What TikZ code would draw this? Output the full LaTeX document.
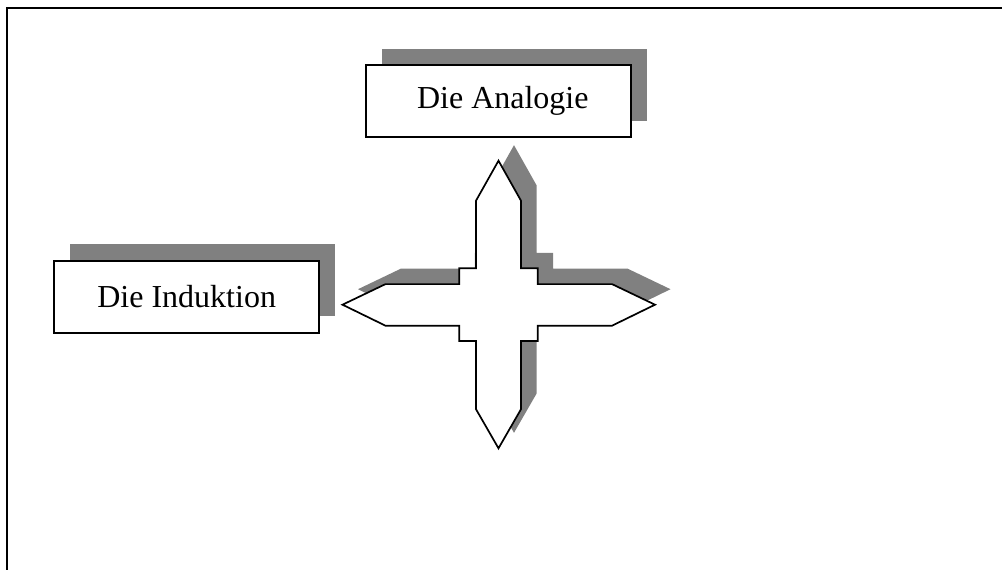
\documentclass[tikz,border=0pt]{standalone}
\usepackage{fontspec}
\setmainfont{Liberation Serif}
\usetikzlibrary{shadows}

% outline of the four-pointed cross, relative to its centre
\newcommand\plusoutline{
  (0,-144) -- (-22.5,-104) -- (-22.5,-36.4) -- (-39.2,-36.4) -- (-39.2,-20.6)
  -- (-113,-20.6) -- (-156,0) -- (-113,21) -- (-39.2,21) -- (-39.2,36.3)
  -- (-22.5,36.3) -- (-22.5,104.5) -- (0,143.6) -- (22.5,104.5) -- (22.5,36.3)
  -- (39.2,36.3) -- (39.2,21) -- (113.5,21) -- (156.5,0) -- (113.5,-20.6)
  -- (39.2,-20.6) -- (39.2,-36.4) -- (22.5,-36.4) -- (22.5,-104) -- cycle}

\tikzset{
  shadowgray/.style={fill=black!50},
  termbox/.style={draw, fill=white, line width=1.8pt, inner sep=0pt,
    minimum width=265pt, minimum height=72pt,
    font=\fontsize{32}{36}\selectfont,
    drop shadow={shadow xshift=16pt, shadow yshift=16.5pt, fill=black!50, opacity=1}},
  plusline/.style={draw, fill=white, line width=1.7pt, line join=miter}
}

\begin{document}
\begin{tikzpicture}[x=1pt, y=-1pt]
  \useasboundingbox (0,0) rectangle (1002,570);
  \fill[white] (0,0) rectangle (1002,570);

  % open frame along the top and left edges
  \draw[line width=2pt] (6.5,570) -- (6.5,8) -- (1002,8);

  % cross with its offset shadow
  \begin{scope}[shift={(498.5,304.7)}]
    \fill[shadowgray, shift={(15.5,-15.5)}] \plusoutline;
    \path[plusline] \plusoutline;
  \end{scope}

  % labelled boxes
  \node[termbox] (analogie) at (498.8,101.2) {\kern8pt Die Analogie};
  \node[termbox] (induktion) at (186.7,296.7) {Die Induktion};
\end{tikzpicture}
\end{document}
